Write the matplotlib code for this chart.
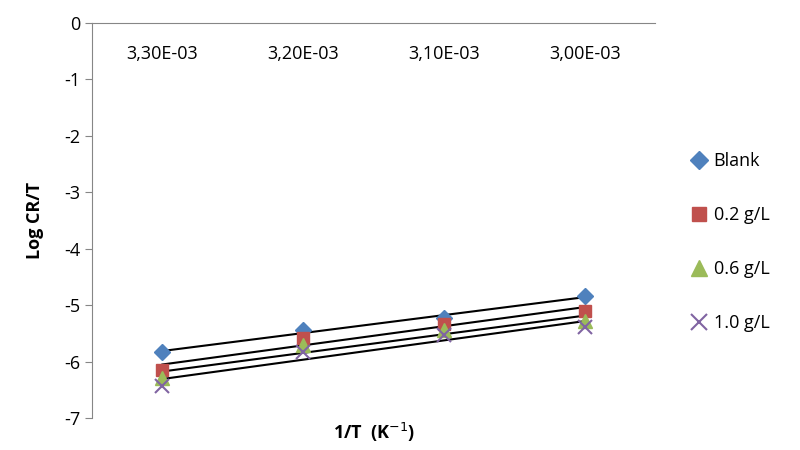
import matplotlib
matplotlib.use("Agg")
import matplotlib.pyplot as plt
import numpy as np

x = [0.00330, 0.00320, 0.00310, 0.00300]
tick_labels = ["3,30E-03", "3,20E-03", "3,10E-03", "3,00E-03"]
blank = [-5.83, -5.44, -5.23, -4.84]
g02 = [-6.15, -5.58, -5.34, -5.10]
g06 = [-6.29, -5.71, -5.44, -5.28]
g10 = [-6.43, -5.83, -5.53, -5.39]

plt.rcParams['font.family'] = ['Open Sans', 'DejaVu Sans']
plt.rcParams['axes.unicode_minus'] = False
fig = plt.figure(figsize=(8, 4.5), dpi=100)
ax = fig.add_axes([0.115, 0.071, 0.704, 0.878])

series = [
    ("Blank", blank, dict(marker='D', color='#4F81BD', ms=8)),
    ("0.2 g/L", g02, dict(marker='s', color='#C0504D', ms=9)),
    ("0.6 g/L", g06, dict(marker='^', color='#9BBB59', ms=10)),
    ("1.0 g/L", g10, dict(marker='x', color='#8064A2', ms=10, mew=1.5)),
]
xa = np.array(x)
for name, ys, st in series:
    ax.plot(x, ys, linestyle='none', label=name, **st)
    k, b = np.polyfit(xa, ys, 1)
    ax.plot(xa, k * xa + b, color='black', lw=1.5, zorder=1)

ax.set_xlim(0.00335, 0.00295)
ax.set_ylim(-7, 0)
ax.set_yticks(range(-7, 1))
ax.set_xticks(x)
ax.set_xticklabels(tick_labels)
ax.tick_params(axis='x', top=False, bottom=False, labeltop=True, labelbottom=False, pad=-32, labelsize=13)
ax.tick_params(axis='y', labelsize=13, length=5, color='#868686')
for s in ['right', 'bottom']:
    ax.spines[s].set_visible(False)
for s in ['left', 'top']:
    ax.spines[s].set_color('#868686')
ax.set_ylabel("Log CR/T", fontsize=13, fontweight='bold', labelpad=14)
ax.set_xlabel("1/T  (K$^{-1}$)", fontsize=13, fontweight='bold', labelpad=2)
ax.legend(loc='center left', bbox_to_anchor=(1.03, 0.445), frameon=False, fontsize=13,
          labelspacing=2.0, handletextpad=0.2, handlelength=1.2, markerscale=1.15)
fig.savefig("out.png")
